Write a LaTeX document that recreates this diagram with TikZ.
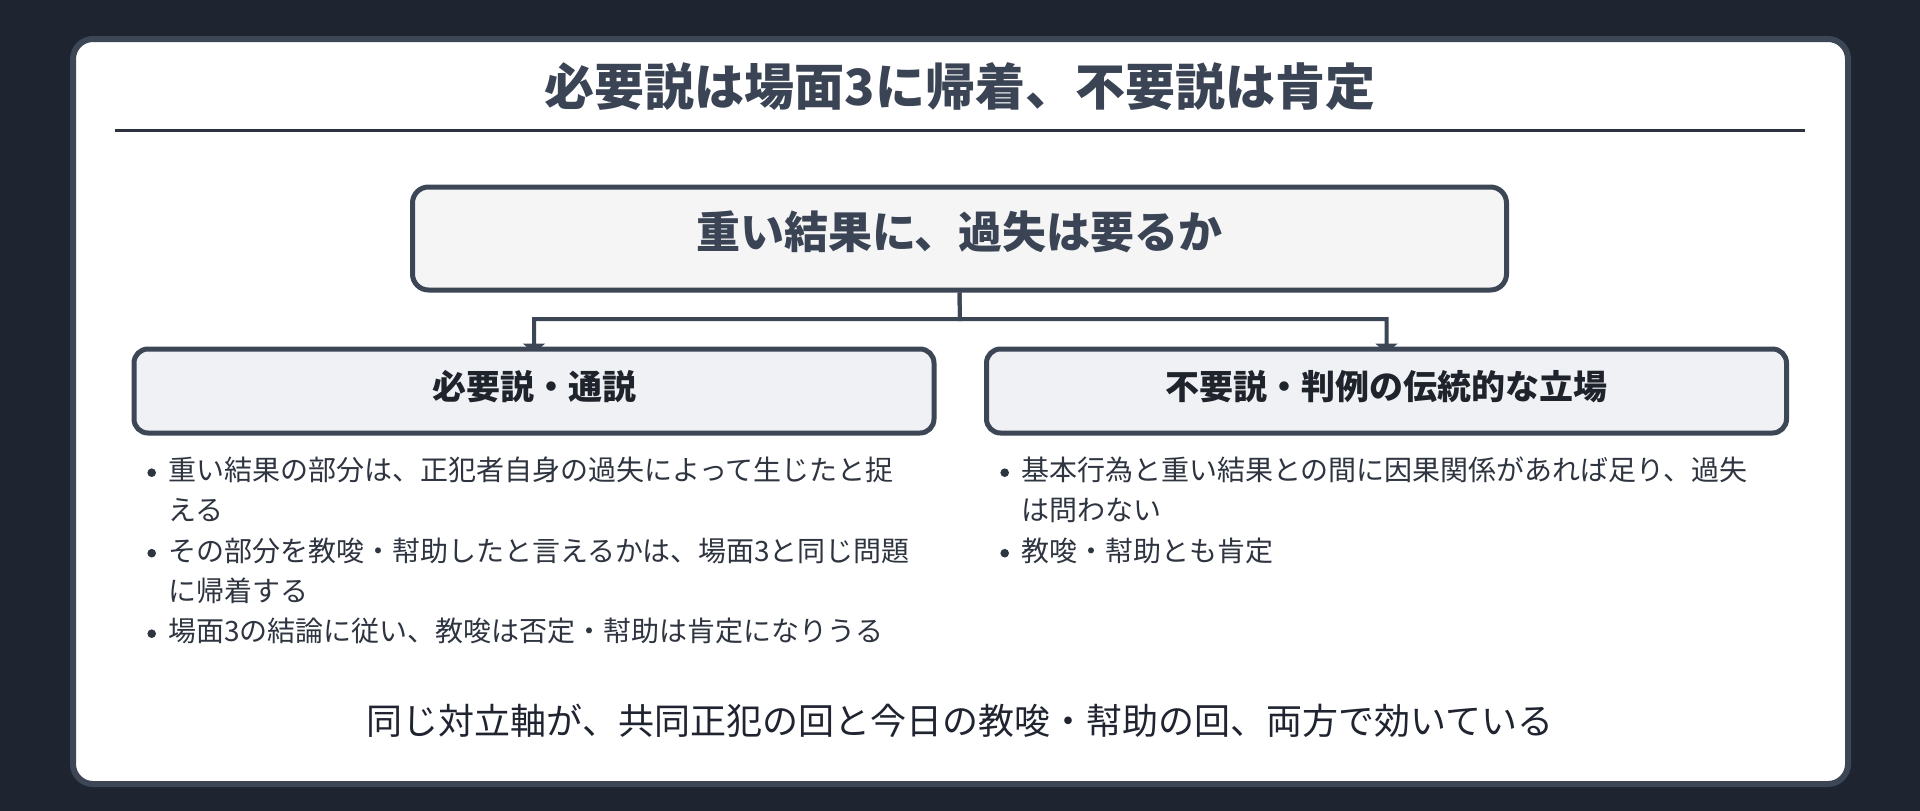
\documentclass[tikz,border=0pt]{standalone}
\usepackage{fontspec}
\setmainfont{Noto Sans CJK JP}
\usetikzlibrary{arrows.meta}
\usetikzlibrary{backgrounds}

\definecolor{bgdark}{HTML}{1E2430}
\definecolor{edgegray}{HTML}{3C4655}
\definecolor{titleink}{HTML}{3A4454}
\definecolor{rulecol}{HTML}{2B323E}
\definecolor{topfill}{HTML}{F5F5F5}
\definecolor{subfill}{HTML}{F0F1F5}
\definecolor{subink}{HTML}{1F232B}
\definecolor{bodyink}{HTML}{2E3440}
\definecolor{footink}{HTML}{1F2430}

\begin{document}
\begin{tikzpicture}[x=1pt, y=-1pt, every node/.style={inner sep=0pt},
    question/.style={draw=edgegray, line width=5pt, fill=topfill, rounded corners=16pt,
        minimum width=1094pt, minimum height=103pt, text=titleink,
        font=\fontsize{44}{52}\selectfont\bfseries, text height=30pt, text depth=10.6pt},
    view/.style={draw=edgegray, line width=5pt, fill=subfill, rounded corners=14pt,
        minimum width=800pt, minimum height=84pt, text=subink,
        font=\fontsize{34}{40}\selectfont\bfseries, text height=24pt, text depth=6.2pt},
    point/.style={anchor=base west, text=bodyink, font=\fontsize{28}{40.25}\selectfont},
    link/.style={draw=edgegray, line width=4pt, -{Triangle[width=22pt 0 0, length=9.5pt 0 0]}, shorten >=-6.5pt}]
            \useasboundingbox (0,0) rectangle (1920,811);
            % dark page and white card
            \begin{scope}[on background layer]
                \fill[bgdark] (0,0) rectangle (1920,811);
                \draw[edgegray, line width=6pt, fill=white, rounded corners=20pt] (73,39) rectangle (1848,784);
            \end{scope}

            % title and rule
            \node[anchor=base, text=titleink, font=\fontsize{50}{60}\selectfont\bfseries] (title) at (960,105.5) {必要説は場面3に帰着、不要説は肯定};
            \draw[rulecol, line width=3pt] (115,130) -- (1805,130);

            % question and the two views
            \node[question] (question) at (959.5,238.5) {重い結果に、過失は要るか};
            \node[view] (needed) at (534,391) {必要説・通説};
            \node[view] (unneeded) at (1386.5,391) {不要説・判例の伝統的な立場};
            \coordinate (fork) at (960,319);

            % points under each view
            \node[point] (lefta) at (168,480.6) {\parbox[t]{780pt}{重い結果の部分は、正犯者自身の過失によって生じたと捉\\える}};
            \node[point] (leftb) at (168,561.1) {\parbox[t]{780pt}{その部分を教唆・幇助したと言えるかは、場面3と同じ問題\\に帰着する}};
            \node[point] (leftc) at (168,641.6) {場面3の結論に従い、教唆は否定・幇助は肯定になりうる};
            \node[point] (righta) at (1021,480.6) {\parbox[t]{780pt}{基本行為と重い結果との間に因果関係があれば足り、過失\\は問わない}};
            \node[point] (rightb) at (1021,561.1) {教唆・幇助とも肯定};
            \foreach \p in {lefta,leftb,leftc,righta,rightb}
                \fill[bodyink] ([xshift=-16.3pt,yshift=7.9pt]\p.base west) circle (4.3pt);

            % closing line
            \node[anchor=base, text=footink, font=\fontsize{36}{44}\selectfont] (closing) at (960,734.7) {同じ対立軸が、共同正犯の回と今日の教唆・幇助の回、両方で効いている};

            % connectors
            \begin{scope}[on background layer]
                \draw[link] (question.south) -- (fork) -| (needed.north);
                \draw[link] (question.south) -- (fork) -| (unneeded.north);
            \end{scope}
        \end{tikzpicture}
\end{document}
